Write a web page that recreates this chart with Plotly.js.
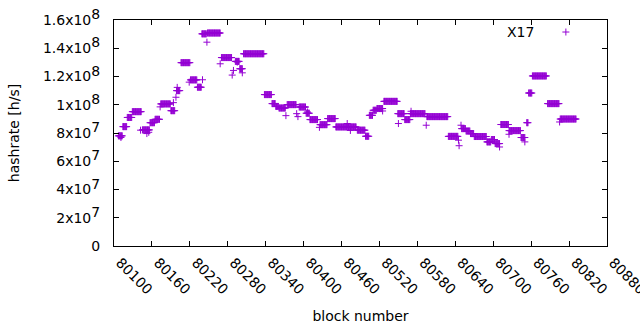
<!DOCTYPE html>
<html><head><meta charset="utf-8">
<script src="https://cdn.plot.ly/plotly-3.0.1.min.js"></script>
<style>html,body{margin:0;padding:0;background:#fff}#chart{width:640px;height:330px}</style>
</head><body><div id="chart"></div>
<script>
// Runs of blocks sharing the same estimated hashrate (values in millions of h/s)
const runStart = [80107,80114,80121,80129,80145,80157,80165,80174,80190,80199,80206,80221,80232,80239,80248,80270,80292,80299,80305,80338,80350,80356,80361,80374,80393,80404,80410,80426,80438,80451,80485,80498,80504,80510,80516,80527,80549,80560,80569,80595,80629,80650,80657,80664,80670,80690,80697,80703,80712,80725,80744,80753,80756,80762,80786,80806];
const runEnd   = [80113,80120,80128,80143,80156,80164,80172,80189,80196,80204,80220,80231,80238,80246,80268,80286,80298,80303,80337,80349,80355,80360,80371,80388,80403,80409,80422,80437,80450,80483,80497,80503,80509,80515,80525,80548,80559,80568,80592,80628,80644,80656,80663,80669,80689,80696,80702,80710,80724,80743,80750,80755,80761,80784,80804,80831];
const runHash  = [78.0,84.5,91.0,95.1,82.2,87.3,89.7,100.6,95.8,110.0,129.8,117.6,112.4,150.2,150.8,133.4,130.7,125.5,136.1,107.2,100.8,98.8,97.7,100.1,98.4,94.0,89.5,85.9,90.2,84.3,82.0,77.7,92.5,96.1,97.3,102.4,93.7,89.5,93.7,91.6,77.6,83.1,81.4,79.6,77.5,73.7,75.4,72.5,86.0,81.7,76.8,87.3,108.3,120.4,100.8,89.9];
// Isolated blocks
const pointBlock = [80111,80142,80152,80155,80173,80194,80198,80200,80219,80240,80247,80268,80287,80289,80295,80303,80372,80389,80391,80406,80425,80469,80474,80525,80550,80570,80594,80645,80646,80649,80710,80725,80750,80805];
const pointHash  = [76.8,82.0,79.6,80.5,98.5,101.5,105.3,112.3,116.0,117.7,144.3,129.0,121.0,124.3,130.2,122.6,92.3,93.7,91.6,94.9,84.0,86.7,81.8,95.6,86.7,95.4,85.5,74.9,71.0,85.5,70.1,79.1,73.7,87.8];

const seriesName = "X17";
const xTickVals = [80100,80160,80220,80280,80340,80400,80460,80520,80580,80640,80700,80760,80820,80880];
const yTickVals = [0,2e7,4e7,6e7,8e7,1e8,1.2e8,1.4e8,1.6e8];
const yMant = ["0","2","4","6","8","1","1.2","1.4","1.6"];
const yExp  = [null,7,7,7,7,8,8,8,8];

const xs = [], ys = [];
for (let i = 0; i < runStart.length; i++) {
  for (let b = runStart[i]; b <= runEnd[i]; b++) { xs.push(b); ys.push(runHash[i] * 1e6); }
}
for (let i = 0; i < pointBlock.length; i++) { xs.push(pointBlock[i]); ys.push(pointHash[i] * 1e6); }

const yTickText = yMant.map((m, i) => yExp[i] === null ? m :
  m + "x10<sup><span style=\"font-size:14px\">" + yExp[i] + "</span></sup>");

const purple = "#9400d3";
const font = {family: "DejaVu Sans, sans-serif", size: 14, color: "#000"};

Plotly.newPlot("chart", [{
  x: xs, y: ys, type: "scatter", mode: "markers", name: " ",
  marker: {symbol: "cross-thin", size: 5, color: purple, line: {color: purple, width: 1}},
  showlegend: true, hoverinfo: "skip"
}], {
  width: 640, height: 330,
  margin: {l: 114, r: 33, t: 20, b: 84},
  paper_bgcolor: "#fff", plot_bgcolor: "#fff",
  font: font,
  showlegend: true,
  legend: {x: 0.876, y: 0.945, xanchor: "left", yanchor: "middle", bgcolor: "rgba(0,0,0,0)", font: font},
  annotations: [{text: seriesName, xref: "paper", yref: "paper", x: 0.856, y: 0.945, xanchor: "right", yanchor: "middle", showarrow: false, font: font}],
  xaxis: {
    range: [80100, 80880], tickvals: xTickVals, ticktext: xTickVals.map(String), tickangle: 45,
    ticks: "inside", ticklen: 5, tickcolor: "#000", showline: true, linecolor: "#000", linewidth: 1,
    mirror: "ticks", showgrid: false, zeroline: false, ticklabelshift: 6, ticklabelstandoff: 2,
    ticklabeloverflow: "allow",
    title: {text: "block number", font: font, standoff: 14}
  },
  yaxis: {
    range: [0, 1.6e8], tickvals: yTickVals, ticktext: yTickText,
    ticks: "inside", ticklen: 5, tickcolor: "#000", showline: true, linecolor: "#000", linewidth: 1,
    mirror: "ticks", showgrid: false, zeroline: false, ticklabelstandoff: 10,
    title: {text: "hashrate [h/s]", font: font, standoff: 20}
  }
}, {staticPlot: true});
</script></body></html>
